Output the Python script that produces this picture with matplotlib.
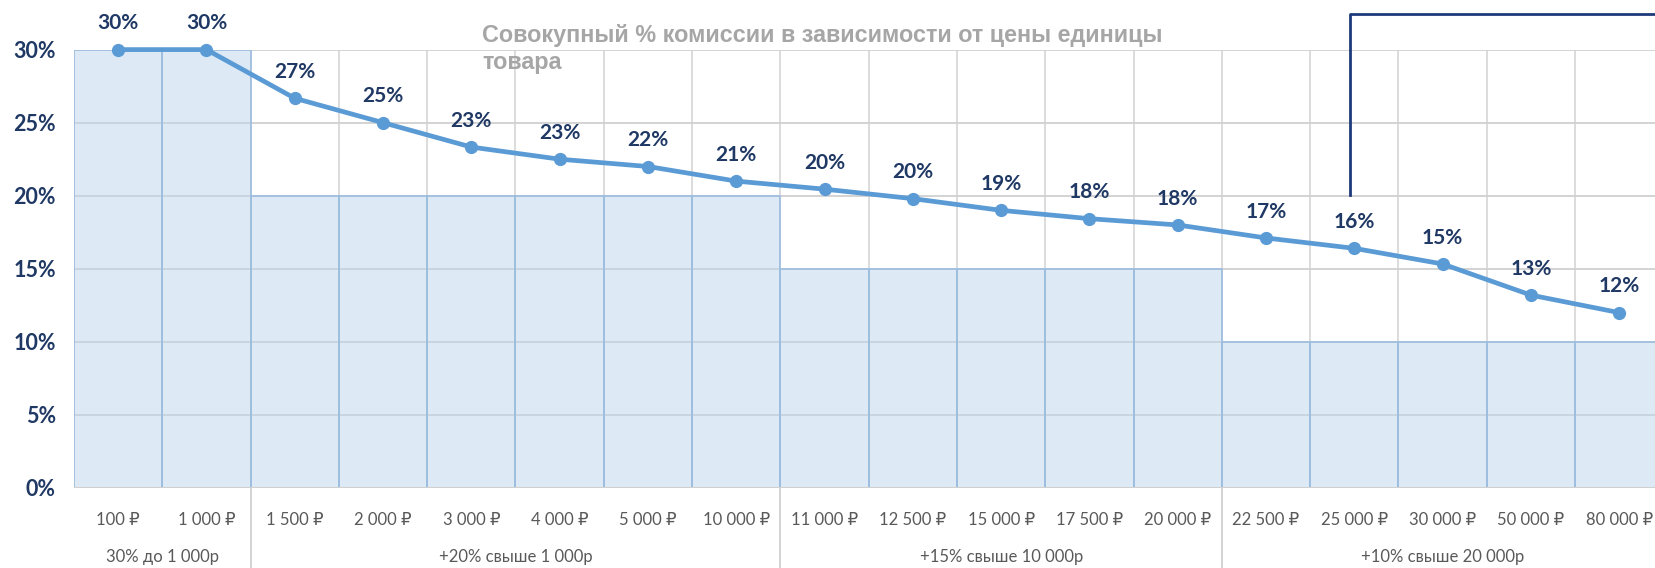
import numpy as np
import matplotlib.pyplot as plt
from matplotlib.lines import Line2D
from matplotlib import font_manager

prices = ['100 ₽', '1 000 ₽', '1 500 ₽', '2 000 ₽', '3 000 ₽', '4 000 ₽',
          '5 000 ₽', '10 000 ₽', '11 000 ₽', '12 500 ₽', '15 000 ₽', '17 500 ₽',
          '20 000 ₽', '22 500 ₽', '25 000 ₽', '30 000 ₽', '50 000 ₽', '80 000 ₽']
tier_rate = [30, 30, 20, 20, 20, 20, 20, 20, 15, 15, 15, 15, 15, 10, 10, 10, 10, 10]
total_rate = [30.0, 30.0, 26.67, 25.0, 23.33, 22.5, 22.0, 21.0, 20.45, 19.8,
              19.0, 18.43, 18.0, 17.11, 16.4, 15.33, 13.2, 12.0]
groups = ['30% до 1 000р', '+20% свыше 1 000р', '+15% свыше 10 000р', '+10% свыше 20 000р']
group_sizes = [2, 6, 5, 5]

title = 'Совокупный % комиссии в зависимости от цены единицы\nтовара'

navy = '#1F3864'
line_blue = '#5B9BD5'
label_gray = '#595959'

try:
    font_manager.findfont('Liberation Sans Narrow', fallback_to_default=False)
    narrow = ['Liberation Sans Narrow', 'DejaVu Sans']
    cat_size = 13
except ValueError:
    narrow = ['Lato', 'DejaVu Sans']
    cat_size = 12

W, H = 1656, 568
fig = plt.figure(figsize=(W / 100, H / 100), dpi=100)
left, right = 74, 74 + 18 * 88.3
top, bottom = 49.6, 488
ax = fig.add_axes([left / W, 1 - bottom / H, (right - left) / W, (bottom - top) / H])

x = np.arange(len(prices))
ax.set_xlim(-0.5, len(prices) - 0.5)
ax.set_ylim(0, 30)

# grid behind bars
ax.set_axisbelow(True)
ax.yaxis.grid(True, color='#D0D0D0', lw=1.3)
for b in np.arange(-0.5, len(prices), 1):
    ax.axvline(b, color='#D9D9D9', lw=1.3, zorder=0)

ax.bar(x, tier_rate, width=1.0, color='#BDD7EE', alpha=0.5, zorder=1)
ax.bar(x, tier_rate, width=1.0, fill=False, edgecolor='#9DBEE0', lw=1.2, zorder=2)

ax.plot(x, total_rate, color=line_blue, lw=3.4, marker='o', ms=8.5, zorder=4, clip_on=False)
for xi, v in zip(x, total_rate):
    ax.annotate(f'{int(v + 0.5)}%', (xi, v), xytext=(0, 19), textcoords='offset points',
                ha='center', va='center', fontsize=15, fontweight='bold', color=navy,
                family=['Lato', 'DejaVu Sans'])

for s in ax.spines.values():
    s.set_visible(False)
ax.axhline(0, color='#D0D0D0', lw=1.5, zorder=3)

ax.set_yticks([0, 5, 10, 15, 20, 25, 30])
ax.set_yticklabels([f'{t}%' for t in [0, 5, 10, 15, 20, 25, 30]], fontsize=15.5,
                   fontweight='bold', color=navy, family=['Lato', 'DejaVu Sans'])
ax.tick_params(axis='y', length=0, pad=13)
ax.set_xticks(x)
ax.set_xticklabels([])
ax.tick_params(axis='x', length=0)

# category labels and group row
for xi, p in zip(x, prices):
    ax.text(xi, -0.073, p, transform=ax.get_xaxis_transform(), ha='center', va='center',
            fontsize=cat_size, color=label_gray, family=narrow)
start = 0
for g, n in zip(groups, group_sizes):
    ax.text(start + n / 2 - 0.5, -0.158, g, transform=ax.get_xaxis_transform(),
            ha='center', va='center', fontsize=cat_size, color=label_gray, family=narrow)
    start += n
    if start < len(prices):
        ax.plot([start - 0.5, start - 0.5], [0, -0.25], transform=ax.get_xaxis_transform(),
                color='#D0D0D0', lw=1.3, clip_on=False)

fig.text(482 / W, 1 - 49 / H, title, ha='left', va='center', fontsize=16.8,
         fontweight='bold', color='#A6A6A6', family=['Liberation Sans', 'DejaVu Sans'],
         linespacing=1.2)

# dark outline box at upper right
bx = 1350 / W
fig.add_artist(Line2D([bx, bx, 1.0], [1 - 195 / H, 1 - 14 / H, 1 - 14 / H],
                      color='#1F3A7A', lw=2))

fig.savefig('out.png', dpi=100)
